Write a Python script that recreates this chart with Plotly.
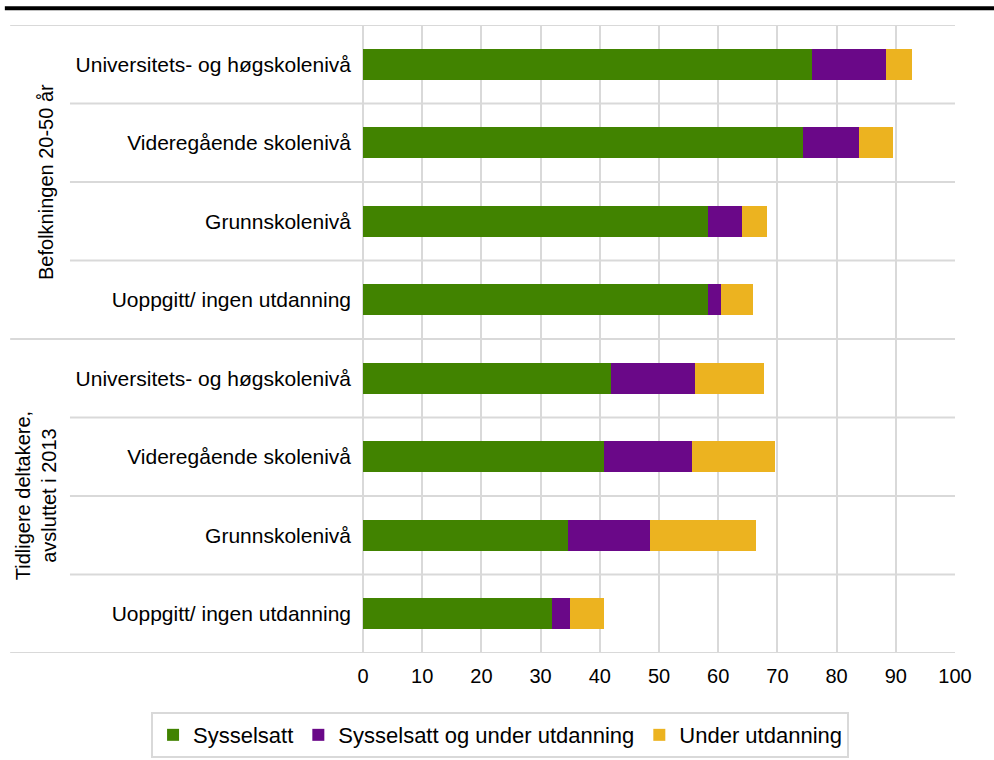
import plotly.graph_objects as go

# Categories, top to bottom
groups = ["Befolkningen 20-50 år", "Tidligere deltakere,<br>avsluttet i 2013"]
levels = [
    "Universitets- og høgskolenivå",
    "Videregående skolenivå",
    "Grunnskolenivå",
    "Uoppgitt/ ingen utdanning",
]
categories = levels + levels

# Series values (percent)
sysselsatt = [75.9, 74.4, 58.3, 58.3, 41.9, 40.7, 34.6, 31.9]
syss_og_utd = [12.4, 9.4, 5.7, 2.2, 14.2, 14.9, 13.9, 3.1]
under_utd = [4.5, 5.7, 4.2, 5.4, 11.6, 14.0, 17.9, 5.7]

series = [
    ("Sysselsatt", sysselsatt, "#418300"),
    ("Sysselsatt og under utdanning", syss_og_utd, "#6A0888"),
    ("Under utdanning", under_utd, "#ECB320"),
]

FONT = "Liberation Sans, Arial, sans-serif"
GRID = "#D9D9D9"

ypos = list(range(len(categories)))

fig = go.Figure()
for name, vals, color in series:
    fig.add_trace(go.Bar(
        y=ypos,
        x=vals,
        orientation="h",
        name=name,
        marker=dict(color=color, line=dict(width=0)),
        width=0.4,
        hovertemplate="%{x}<extra>" + name + "</extra>",
    ))

# Category separator lines (extend into label area)
n = len(categories)
per_group = len(levels)
for i in range(n + 1):
    b = i - 0.5
    x0 = -0.596 if i % per_group == 0 else -0.495
    fig.add_shape(type="line", xref="paper", yref="y", x0=x0, x1=1, y0=b, y1=b,
                  line=dict(color=GRID, width=2), layer="below")

# Group labels
label_x = [-0.5355, -0.552]
for g, label in enumerate(groups):
    mid = g * per_group + (per_group - 1) / 2
    fig.add_annotation(
        text=label, xref="paper", yref="y", x=label_x[g], y=mid,
        xanchor="center", yanchor="middle",
        textangle=-90, showarrow=False, font=dict(size=20, color="#000000", family=FONT),
        align="center",
    )

# Thick black rule at top of the page
fig.add_shape(type="line", xref="paper", yref="paper", x0=-0.605, x1=1.07, y0=1.0265, y1=1.0265,
              line=dict(color="#000000", width=4))

fig.update_layout(
    barmode="stack",
    width=994,
    height=760,
    margin=dict(l=363, r=39, t=25, b=107, autoexpand=False),
    paper_bgcolor="white",
    plot_bgcolor="white",
    font=dict(family=FONT, size=21, color="#000000"),
    showlegend=True,
    legend=dict(
        orientation="h",
        x=-0.358, xanchor="left",
        y=-0.094, yanchor="top",
        bordercolor=GRID, borderwidth=2,
        font=dict(size=22),
        itemwidth=30,
        traceorder="normal",
    ),
    xaxis=dict(
        range=[0, 100],
        dtick=10,
        showgrid=True,
        gridcolor=GRID,
        gridwidth=2,
        zeroline=True,
        zerolinecolor=GRID,
        zerolinewidth=2,
        showline=False,
        ticks="",
        ticklabelstandoff=9,
        tickfont=dict(size=20),
        automargin=False,
    ),
    yaxis=dict(
        tickmode="array",
        tickvals=ypos,
        ticktext=categories,
        range=[n - 0.5, -0.5],
        showgrid=False,
        zeroline=False,
        ticks="",
        ticklabelstandoff=11,
        tickfont=dict(size=21),
        automargin=False,
    ),
)

fig.write_html("out.html", config={"displayModeBar": False},
               post_script="document.body.style.margin='0';")
